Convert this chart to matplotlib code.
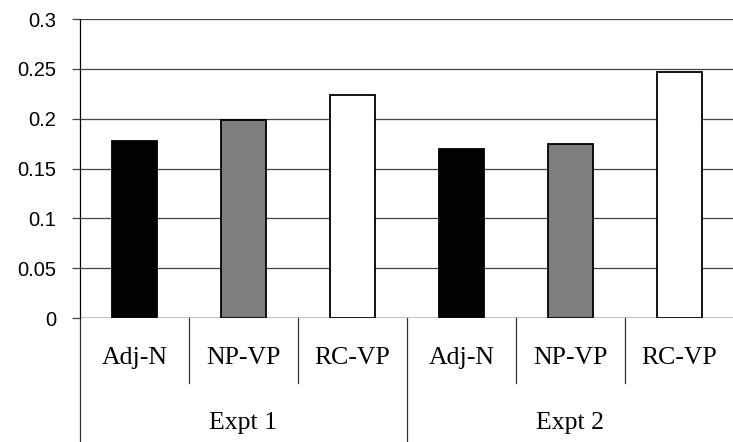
import matplotlib
matplotlib.use('Agg')
import matplotlib.pyplot as plt
from matplotlib.ticker import FuncFormatter, MultipleLocator
from matplotlib.transforms import blended_transform_factory

# Mean values per condition, two experiments
conditions = ['Adj-N', 'NP-VP', 'RC-VP']
experiments = ['Expt 1', 'Expt 2']
expt1_values = [0.178, 0.199, 0.224]
expt2_values = [0.170, 0.175, 0.247]
bar_colors = ['black', '#7e7e7e', 'white']

values = expt1_values + expt2_values
labels = conditions * len(experiments)
colors = bar_colors * len(experiments)
positions = list(range(len(values)))

fig = plt.figure(figsize=(7.33, 4.42), dpi=100)
ax = fig.add_axes([0.1091, 0.2805, 0.8922, 0.6765])

ax.bar(positions, values, width=0.41, color=colors, edgecolor='black',
       linewidth=1.3, zorder=3)

ax.set_xlim(-0.5, len(values) - 0.5)
ax.set_ylim(0, 0.3)
ax.yaxis.set_major_locator(MultipleLocator(0.05))
ax.yaxis.set_major_formatter(FuncFormatter(lambda v, _: f'{v:g}'))
ax.grid(axis='y', color='#444444', linewidth=0.9, zorder=0)
ax.set_xticks([])

for side in ['top', 'right', 'bottom']:
    ax.spines[side].set_visible(False)
ax.spines['left'].set_linewidth(0.9)
ax.axhline(0, color='#333333', linewidth=1.0, zorder=4)

ax.tick_params(axis='y', length=6, width=0.9, pad=11, color='#444444')
for t in ax.get_yticklabels():
    t.set_fontfamily('Liberation Sans')
    t.set_fontsize(14.5)

# Two-level category axis below the plot
trans = blended_transform_factory(ax.transData, ax.transAxes)
label_font = dict(family='Liberation Serif', size=18.5)
for x, lab in zip(positions, labels):
    ax.text(x, -0.135, lab, transform=trans, ha='center', va='center',
            **label_font)

n = len(conditions)
for g, name in enumerate(experiments):
    mid = g * n + (n - 1) / 2
    ax.text(mid, -0.35, name, transform=trans, ha='center', va='center',
            **label_font)

# separators: short between conditions, full height between experiments
for i in range(len(values) + 1):
    x = i - 0.5
    y_end = -0.45 if i % n == 0 else -0.217
    ax.plot([x, x], [0, y_end], transform=trans, color='#333333',
            linewidth=0.9, clip_on=False)

fig.savefig('out.png', dpi=100, facecolor='white')
